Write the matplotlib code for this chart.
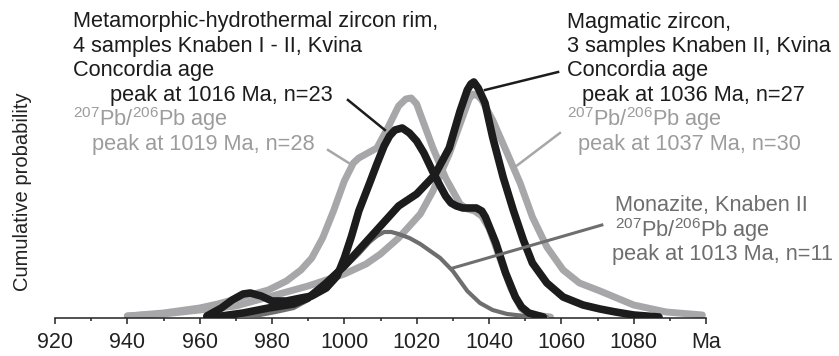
import matplotlib
matplotlib.use("Agg")
import matplotlib.pyplot as plt
from matplotlib.ticker import MultipleLocator

plt.rcParams['font.family'] = ['Liberation Sans', 'DejaVu Sans']
plt.rcParams['mathtext.default'] = 'regular'

# relative probability (arbitrary units), age in Ma
rim_conc_age = [962, 966, 969, 972, 974, 977, 980, 984, 988, 991, 995, 998, 1000, 1002, 1004,
                1007, 1009, 1011, 1012.5, 1014, 1016, 1018, 1020, 1022, 1024.5, 1026.5, 1028,
                1029.5, 1031, 1032.8, 1036.5, 1038, 1039, 1041.9, 1044.6, 1047.3, 1049, 1051, 1055]
rim_conc_p = [2, 10, 18, 24, 25, 22, 17, 17, 20, 22, 30, 42, 60, 82, 107,
              135, 154, 172, 182, 188, 190, 185, 177, 165, 146, 132, 122,
              115, 112, 110, 110, 107, 101, 75, 45, 21, 11, 5, 1]

rim_pb_age = [940, 950, 960, 965, 970, 975, 979, 984, 988, 991, 994, 997, 1000, 1002.5, 1004,
              1006, 1009, 1012, 1015, 1017, 1018.5, 1020, 1021, 1024.5, 1028, 1032, 1034,
              1036, 1038, 1040, 1043, 1046, 1049, 1052, 1057]
rim_pb_p = [2, 5, 10, 14, 19, 24, 28, 37, 48, 60, 80, 107, 137, 155, 160,
            164, 170, 190, 212, 219, 220, 214, 204, 170, 140, 114, 109,
            107, 102, 90, 60, 30, 9, 3, 1]

mag_conc_age = [962, 966, 972, 979, 986, 990, 995, 1000, 1005, 1010, 1015, 1020, 1025, 1029,
                1032, 1034, 1035, 1035.8, 1037, 1038.9, 1041, 1043.9, 1046.7, 1049.5, 1052,
                1056, 1060.5, 1066, 1070.7, 1075, 1080, 1087]
mag_conc_p = [1, 2, 5, 10, 14, 20, 35, 52, 72, 92, 112, 124, 143, 170,
              207, 228, 234, 236, 230, 215, 181, 141, 108, 78, 55,
              35, 21, 13, 9, 6, 3, 1]

mag_pb_age = [940, 950, 960, 970, 980, 990, 1000, 1006, 1010, 1015, 1021, 1024.5, 1029, 1033,
              1034.5, 1035.6, 1037, 1038, 1041, 1045, 1048.6, 1052, 1056, 1060.5, 1065, 1070.7,
              1080, 1089, 1099]
mag_pb_p = [2, 4, 8, 12, 22, 32, 44, 54, 64, 80, 104, 127, 164, 204,
            219, 224, 222, 218, 198, 165, 135, 101, 71, 48, 35, 27,
            13, 6, 3]

mnz_age = [965.6, 970, 976.7, 981, 986, 990, 995, 1000, 1004, 1007, 1009, 1011, 1013, 1015,
           1018, 1021, 1026.5, 1030, 1032, 1034, 1037.5, 1041, 1045, 1050, 1056]
mnz_p = [1, 2, 3, 6, 10, 18, 34, 50, 64, 76, 82, 86, 86, 84,
         80, 74, 60, 47, 37, 27, 15, 8, 4, 2, 1]

major_ticks = [920, 940, 960, 980, 1000, 1020, 1040, 1060, 1080, 1100]
tick_labels = ['920', '940', '960', '980', '1000', '1020', '1040', '1060', '1080', 'Ma']

BLACK = '#1c1c1c'
LIGHT = '#a7a7a9'
DARK = '#6e6e6e'
GREY_TXT = '#9c9c9c'

W, H = 839, 356
fig = plt.figure(figsize=(W / 100, H / 100), dpi=100)
ax = fig.add_axes([55 / W, 38 / H, 651 / W, 258 / H])
ax.set_xlim(920, 1100)
ax.set_ylim(0, 258)

kw = dict(solid_capstyle='round', solid_joinstyle='round')
ax.plot(rim_pb_age, rim_pb_p, color=LIGHT, lw=5, zorder=2, **kw)
ax.plot(mag_pb_age, mag_pb_p, color=LIGHT, lw=5, zorder=2, **kw)
ax.plot(mnz_age, mnz_p, color=DARK, lw=3, zorder=3, **kw)
ax.plot(mag_conc_age, mag_conc_p, color=BLACK, lw=5.5, zorder=4, **kw)
ax.plot(rim_conc_age, rim_conc_p, color=BLACK, lw=5.5, zorder=4, **kw)

# leader lines from labels to curves
leaders = [
    ((1001.0, 1011.2), (218, 188), BLACK, 1.8),
    ((995.5, 1002.1), (168, 153), LIGHT, 1.8),
    ((1059.1, 1038.9), (246, 228), BLACK, 1.8),
    ((1059.6, 1047.2), (185, 151), LIGHT, 1.8),
    ((1071.2, 1030.0), (93, 50), DARK, 2.2),
]
for xs, ys, c, lw in leaders:
    ax.plot(xs, ys, color=c, lw=lw, zorder=5, clip_on=False)

for s in ['left', 'right', 'top']:
    ax.spines[s].set_visible(False)
ax.spines['bottom'].set_linewidth(1.1)
ax.spines['bottom'].set_color('#222222')
ax.set_yticks([])
ax.set_xticks(major_ticks)
ax.set_xticklabels(tick_labels, fontsize=15.5, color='#222222')
ax.xaxis.set_minor_locator(MultipleLocator(10))
ax.tick_params(axis='x', which='major', length=4, width=1.1, pad=6, color='#222222')
ax.tick_params(axis='x', which='minor', length=2.5, width=1.1, color='#222222')

fig.text(23 / W, 1 - 192 / H, 'Cumulative probability', rotation=90,
         ha='center', va='center', fontsize=14.5, color='#222222')


def label(x, y, s, color, size=15.7):
    fig.text(x / W, 1 - y / H, s, ha='left', va='baseline', fontsize=size, color=color)


pb = '$^{207}$Pb/$^{206}$Pb age'
label(73, 27, 'Metamorphic-hydrothermal zircon rim,', BLACK)
label(73, 52, '4 samples Knaben I - II, Kvina', BLACK)
label(73, 76, 'Concordia age', BLACK)
label(110, 101, 'peak at 1016 Ma, n=23', BLACK)
label(73, 126, pb, GREY_TXT)
label(92, 150, 'peak at 1019 Ma, n=28', GREY_TXT)

label(567, 28, 'Magmatic zircon,', BLACK)
label(567, 52, '3 samples Knaben II, Kvina', BLACK)
label(567, 76, 'Concordia age', BLACK)
label(582, 101, 'peak at 1036 Ma, n=27', BLACK)
label(567, 126, pb, GREY_TXT)
label(578, 150, 'peak at 1037 Ma, n=30', GREY_TXT)

label(615, 211, 'Monazite, Knaben II', DARK)
label(615, 237, pb, DARK)
label(612, 260, 'peak at 1013 Ma, n=11', DARK)

fig.savefig('out.png', dpi=100)
